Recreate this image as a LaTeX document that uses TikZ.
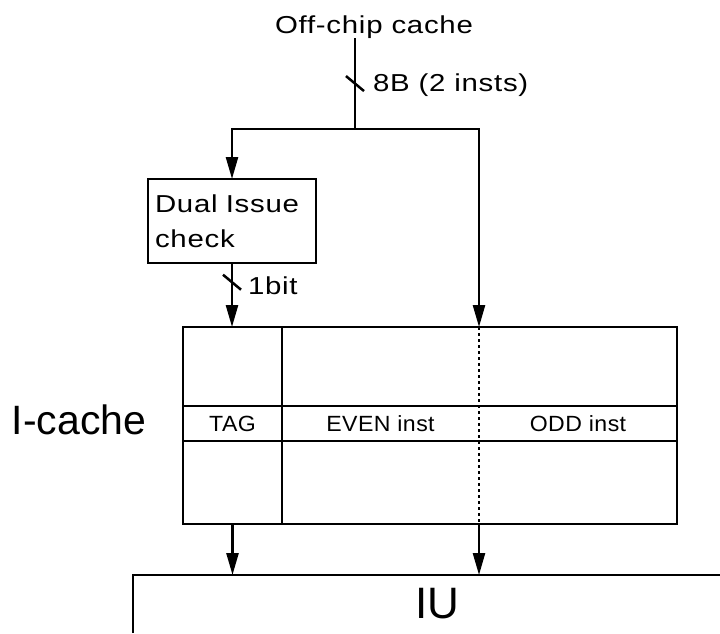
\documentclass[tikz,border=0pt]{standalone}
\usepackage{fontspec}
\setmainfont{Liberation Sans}
\newfontfamily\widefont[FakeStretch=1.2,LetterSpace=3]{Liberation Sans}
\newfontfamily\fieldfont[FakeStretch=1.05,LetterSpace=2]{Liberation Sans}
\usetikzlibrary{positioning,arrows.meta,calc}

\begin{document}
\begin{tikzpicture}[x=1pt,y=-1pt,line width=2.5pt,
    >={Triangle[length=22pt,width=12pt]}]
    \tikzstyle{box}=[draw,rectangle,inner sep=0pt,outer sep=0pt];
    \tikzstyle{lbl}=[inner sep=0pt,outer sep=0pt,font=\widefont\fontsize{24.5}{35}\selectfont];
    \tikzstyle{field}=[inner sep=0pt,outer sep=0pt,minimum height=35pt,font=\fieldfont\fontsize{22}{26}\selectfont];
    \tikzstyle{bus}=[line width=2.5pt];
    \useasboundingbox (0,0) rectangle (720,633);

    % top: source, fork and dual issue check
    \node[lbl,anchor=base] (offchip) at (374,33) {Off-chip cache};
    \coordinate (fork) at (355,129);
    \node[box,minimum width=168pt,minimum height=84pt,text width=154pt,align=left,
          font=\widefont\fontsize{24.5}{35}\selectfont] (dual) at (232,221) {Dual Issue\\check};

    % I-cache with its fields
    \node[box,minimum width=494pt,minimum height=197pt] (icache) at (430,425.5) {};
    \node[field,minimum width=99pt,anchor=west] (tag) at ([yshift=2pt]icache.west) {TAG};
    \node[field,minimum width=197pt,right=0pt of tag] (even) {EVEN inst};
    \node[field,minimum width=198pt,right=0pt of even] (odd) {ODD inst};
    \draw (tag.north west) -- (odd.north east);
    \draw (tag.south west) -- (odd.south east);
    \draw (icache.north -| tag.east) -- (icache.south -| tag.east);
    \draw[line width=2.4pt,dash pattern=on 2.5pt off 3.5pt] (icache.north -| even.east) -- (icache.south -| even.east);
    \node[anchor=base,inner sep=0pt,font=\fontsize{41}{46}\selectfont] (iclbl) at (79,434) {I-cache};

    % IU
    \node[minimum width=608pt,minimum height=58pt,anchor=north west,inner sep=0pt,outer sep=0pt,
          font=\fontsize{44}{50}\selectfont] (iu) at (133,575) {IU};
    \draw (iu.south west) -- (iu.north west) -- (iu.north east);

    % connectors
    \draw (offchip.south -| fork) -- coordinate[pos=.5] (mark8) (fork);
    \draw[->] (fork) -| (dual.north);
    \draw[->] (fork) -| (icache.north -| even.east);
    \draw[->] (dual.south) -- coordinate[pos=.3] (mark1) (icache.north -| dual.south);
    \draw[->] (icache.south -| tag) -- (iu.north -| tag);
    \draw[->] (icache.south -| even.east) -- (iu.north -| even.east);

    % bus width marks
    \draw[bus] ($(mark8)+(-9,-7.5)$) -- ($(mark8)+(9,7.5)$);
    \node[lbl,anchor=base west] (w8) at ($(mark8)+(18,8)$) {8B (2 insts)};
    \draw[bus] ($(mark1)+(-9,-7.5)$) -- ($(mark1)+(9,7.5)$);
    \node[lbl,anchor=base west] (w1) at ($(mark1)+(16,12)$) {1bit};
\end{tikzpicture}
\end{document}
